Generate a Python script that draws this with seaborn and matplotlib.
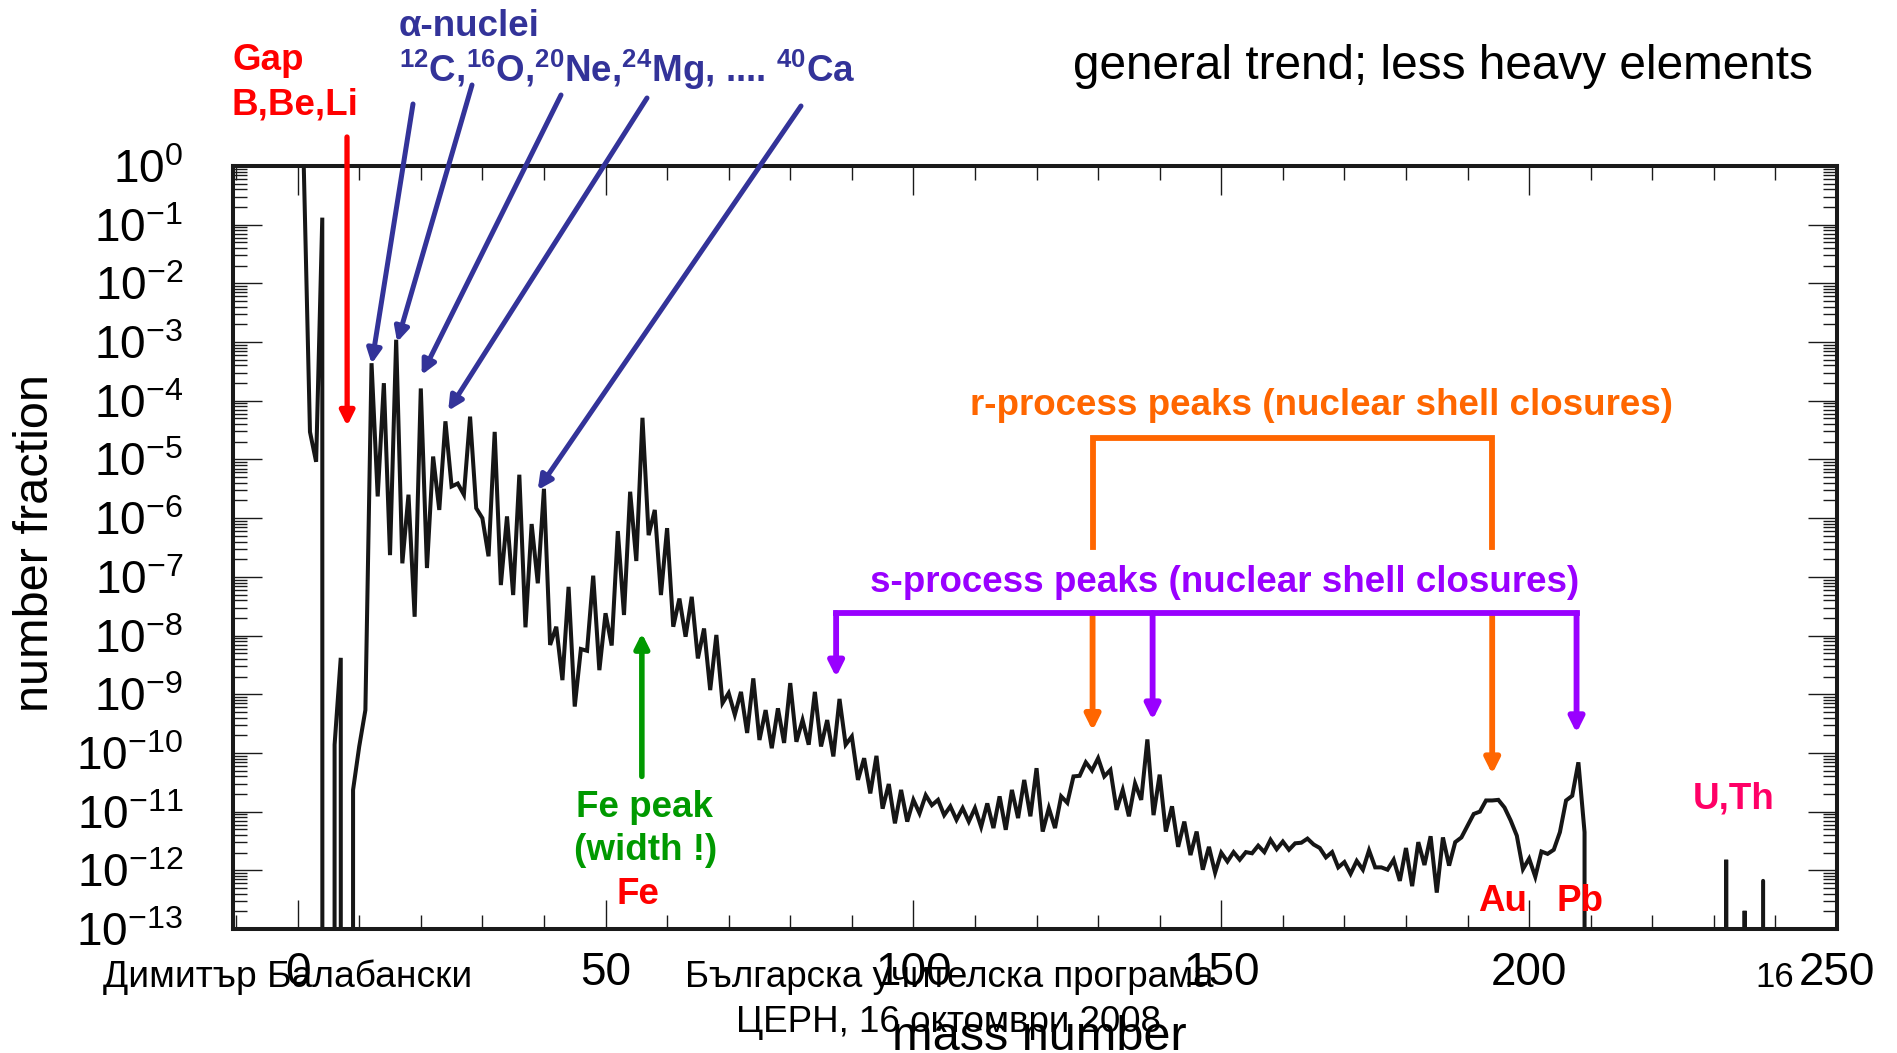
import numpy as np
import pandas as pd
import matplotlib
matplotlib.use("Agg")
import matplotlib.pyplot as plt
import seaborn as sns
from matplotlib.ticker import FixedLocator, MultipleLocator, LogLocator, FuncFormatter, NullFormatter

# ---------------- data: log10(number fraction) per mass number
# None = no nucleus at that mass number (line drops out of the plot)
log_abund_1_40 = [
    -0.04, -4.53, -5.04, -0.88, None, -9.86, -8.38, None, -10.63, -9.89,
    -9.27, -3.36, -5.63, -3.70, -6.63, -2.96, -6.77, -5.60, -7.68, -3.79,
    -6.85, -4.95, -5.86, -4.35, -5.46, -5.41, -5.60, -4.27, -5.83, -6.00,
    -6.65, -4.53, -7.14, -5.97, -7.31, -5.26, -7.86, -6.10, -7.11, -5.50,
]
log_abund_41_80 = [
    -8.16, -7.85, -8.76, -7.17, -9.21, -8.23, -8.26, -6.98, -8.59, -7.62,
    -8.17, -6.22, -7.65, -5.55, -6.73, -4.29, -6.29, -5.86, -7.31, -6.17,
    -7.85, -7.37, -8.02, -7.34, -8.39, -7.88, -8.93, -7.99, -9.15, -8.98,
    -9.35, -8.96, -9.66, -8.73, -9.78, -9.27, -9.92, -9.24, -9.83, -8.81,
]
log_abund_81_120 = [
    -9.81, -9.44, -9.86, -8.96, -9.89, -9.44, -10.06, -9.08, -9.86, -9.72,
    -10.46, -10.09, -10.69, -10.05, -10.95, -10.53, -11.20, -10.63, -11.17, -10.80,
    -11.03, -10.72, -10.89, -10.80, -11.06, -10.91, -11.14, -10.94, -11.17, -10.94,
    -11.26, -10.86, -11.28, -10.74, -11.31, -10.63, -11.11, -10.46, -11.08, -10.26,
]
log_abund_121_160 = [
    -11.34, -10.94, -11.28, -10.74, -10.85, -10.40, -10.39, -10.16, -10.30, -10.09,
    -10.40, -10.29, -10.97, -10.63, -11.08, -10.52, -10.80, -9.77, -11.06, -10.37,
    -11.34, -10.91, -11.60, -11.17, -11.74, -11.34, -11.99, -11.60, -12.04, -11.70,
    -11.85, -11.69, -11.82, -11.69, -11.71, -11.58, -11.69, -11.48, -11.64, -11.51,
]
log_abund_161_209 = [
    -11.65, -11.54, -11.53, -11.46, -11.56, -11.62, -11.78, -11.69, -11.95, -11.86,
    -12.06, -11.84, -11.99, -11.66, -11.95, -11.95, -11.99, -11.82, -12.18, -11.62,
    -12.27, -11.52, -11.91, -11.42, -12.38, -11.44, -11.92, -11.52, -11.44, -11.24,
    -11.04, -11.00, -10.81, -10.81, -10.80, -10.93, -11.15, -11.41, -11.98, -11.80,
    -12.11, -11.68, -11.72, -11.65, -11.35, -10.81, -10.73, -10.16, -11.35,
]
actinide_mass = [232, 235, 238]
actinide_log_abund = [-11.82, -12.69, -12.18]

x_ticks = [0, 50, 100, 150, 200, 250]
y_decades = list(range(-13, 1))

# ---------------- build table
log_all = log_abund_1_40 + log_abund_41_80 + log_abund_81_120 + log_abund_121_160 + log_abund_161_209
mass = np.arange(1, max(actinide_mass) + 1)
frac = np.zeros(len(mass))
for i, v in enumerate(log_all):
    if v is not None:
        frac[i] = 10.0 ** v
for m, v in zip(actinide_mass, actinide_log_abund):
    frac[m - 1] = 10.0 ** v
df = pd.DataFrame({"mass": mass, "fraction": frac})

# ---------------- style
sns.set_theme(style="ticks")
plt.rcParams["font.family"] = ["Liberation Sans", "DejaVu Sans"]
plt.rcParams["axes.unicode_minus"] = True

W, H = 1897, 1053
fig = plt.figure(figsize=(W / 100, H / 100), dpi=100, facecolor="white")
ax = fig.add_axes([233 / W, 1 - 929 / H, (1837 - 233) / W, (929 - 166) / H])
ax.set_facecolor("white")

sns.lineplot(data=df, x="mass", y="fraction", estimator=None, sort=False,
             color="#161616", linewidth=2.9, ax=ax)
for ln in ax.get_lines():
    ln.set_solid_joinstyle("miter")

ax.set_yscale("log", nonpositive="clip")
ax.set_ylim(1e-13, 1)
ax.set_xlim(-10.5, 250)

ax.xaxis.set_major_locator(FixedLocator(x_ticks))
ax.xaxis.set_minor_locator(MultipleLocator(10))
ax.yaxis.set_major_locator(FixedLocator([10.0 ** d for d in y_decades]))
ax.yaxis.set_minor_locator(LogLocator(base=10, subs=np.arange(2, 10), numticks=200))
ax.yaxis.set_minor_formatter(NullFormatter())
ax.yaxis.set_major_formatter(FuncFormatter(
    lambda v, p: r"$\mathregular{10^{%d}}$" % int(round(np.log10(v)))))

for s in ax.spines.values():
    s.set_visible(True)
    s.set_linewidth(2.9)
    s.set_color("#1a1a1a")
ax.tick_params(which="both", direction="in", top=True, right=True,
               width=1.0, color="#1a1a1a", labelcolor="black")
ax.tick_params(which="major", length=21)
ax.tick_params(which="minor", length=10)
ax.tick_params(axis="x", labelsize=33, pad=16)
ax.tick_params(axis="y", labelsize=33, pad=36)

ax.set_xlabel("mass number", fontsize=35, color="black")
ax.xaxis.set_label_coords(0.503, (929 - 1050) / (929 - 166))
ax.xaxis.label.set_va("baseline")
ax.set_ylabel("number fraction", fontsize=35, color="black")
ax.yaxis.set_label_coords((36 - 233) / (1837 - 233), 0.506)
ax.yaxis.label.set_va("center")
ax.grid(False)

# ---------------- annotations
RED, BLUE, ORANGE, PURPLE, GREEN, PINK = "#FF0000", "#333399", "#FF6600", "#9900FF", "#009900", "#FF0066"
AFS = 26.5


def ftext(x, y, s, color, size=AFS, weight="bold", ha="left"):
    fig.text(x / W, 1 - y / H, s, color=color, fontsize=size, fontweight=weight,
             ha=ha, va="baseline")


def arrow(tip, tail, color, lw, ms=21, tail_px=False):
    ax.annotate("", xy=tip, xycoords="data",
                xytext=((tail[0], H - tail[1]) if tail_px else tail),
                textcoords=("figure pixels" if tail_px else "data"),
                annotation_clip=False,
                arrowprops=dict(arrowstyle="-|>", color=color, lw=lw, mutation_scale=ms,
                                shrinkA=0, shrinkB=0, clip_on=False))


def seg(xs, ys, color, lw):
    ax.plot(xs, ys, color=color, lw=lw, clip_on=False, solid_capstyle="projecting",
            solid_joinstyle="miter", zorder=3)


# Gap B, Be, Li
ftext(232, 70, "Gap", RED)
ftext(232, 115, "B,Be,Li", RED)
arrow((8.04, 10 ** -4.43), (347, 137), RED, 3.8, tail_px=True)

# alpha nuclei
ftext(399, 36, "α-nuclei", BLUE)
ftext(399, 82, r"$\mathregular{^{12}}$C,$\mathregular{^{16}}$O,$\mathregular{^{20}}$Ne,"
               r"$\mathregular{^{24}}$Mg, .... $\mathregular{^{40}}$Ca", BLUE)
for tip, tail in [((12.02, 10 ** -3.37), (413, 104)),
                  ((16.16, 10 ** -3.00), (472, 85)),
                  ((20.14, 10 ** -3.56), (561, 95)),
                  ((24.45, 10 ** -4.17), (647, 98)),
                  ((38.99, 10 ** -5.52), (801, 106))]:
    arrow(tip, tail, BLUE, 3.6, tail_px=True)

ftext(1073, 79, "general trend; less heavy elements", "black", size=34.4, weight="normal")

# r-process
ftext(1321, 415, "r-process peaks (nuclear shell closures)", ORANGE, ha="center")
r_left, r_right, r_top, r_gap_hi, r_gap_lo = 129.1, 194.0, 10 ** -4.63, 10 ** -6.49, 10 ** -7.62
seg([r_left, r_left, r_right, r_right], [r_gap_hi, r_top, r_top, r_gap_hi], ORANGE, 4.2)
arrow((r_left, 10 ** -9.62), (r_left, r_gap_lo), ORANGE, 4.2, ms=22)
arrow((r_right, 10 ** -10.36), (r_right, r_gap_lo), ORANGE, 4.2, ms=22)

# s-process
ftext(1225, 592, "s-process peaks (nuclear shell closures)", PURPLE, ha="center")
s_left, s_mid, s_right, s_top = 87.45, 138.85, 207.7, 10 ** -7.62
seg([s_left, s_right], [s_top, s_top], PURPLE, 4.2)
arrow((s_left, 10 ** -8.71), (s_left, s_top), PURPLE, 4.2, ms=22)
arrow((s_mid, 10 ** -9.44), (s_mid, s_top), PURPLE, 4.2, ms=22)
arrow((s_right, 10 ** -9.66), (s_right, s_top), PURPLE, 4.2, ms=22)

# Fe peak
arrow((55.9, 10 ** -7.96), (55.9, 10 ** -10.40), GREEN, 4.0)
ftext(644, 817, "Fe peak", GREEN, ha="center")
ftext(646, 860, "(width !)", GREEN, ha="center")
ftext(638, 904, "Fe", RED, ha="center")

ftext(1503, 911, "Au", RED, ha="center")
ftext(1580, 911, "Pb", RED, ha="center")
ftext(1734, 808, "U,Th", PINK, ha="center")

# slide footer
ftext(103, 987, "Димитър Балабански", "black", size=26.8, weight="normal")
ftext(949, 987, "Българска учителска програма", "black", size=26.5, weight="normal", ha="center")
ftext(949, 1032, "ЦЕРН, 16 октомври 2008", "black", size=26.5, weight="normal", ha="center")
ftext(1775, 987, "16", "black", size=25, weight="normal", ha="center")

fig.savefig("out.png", dpi=100, facecolor="white")
